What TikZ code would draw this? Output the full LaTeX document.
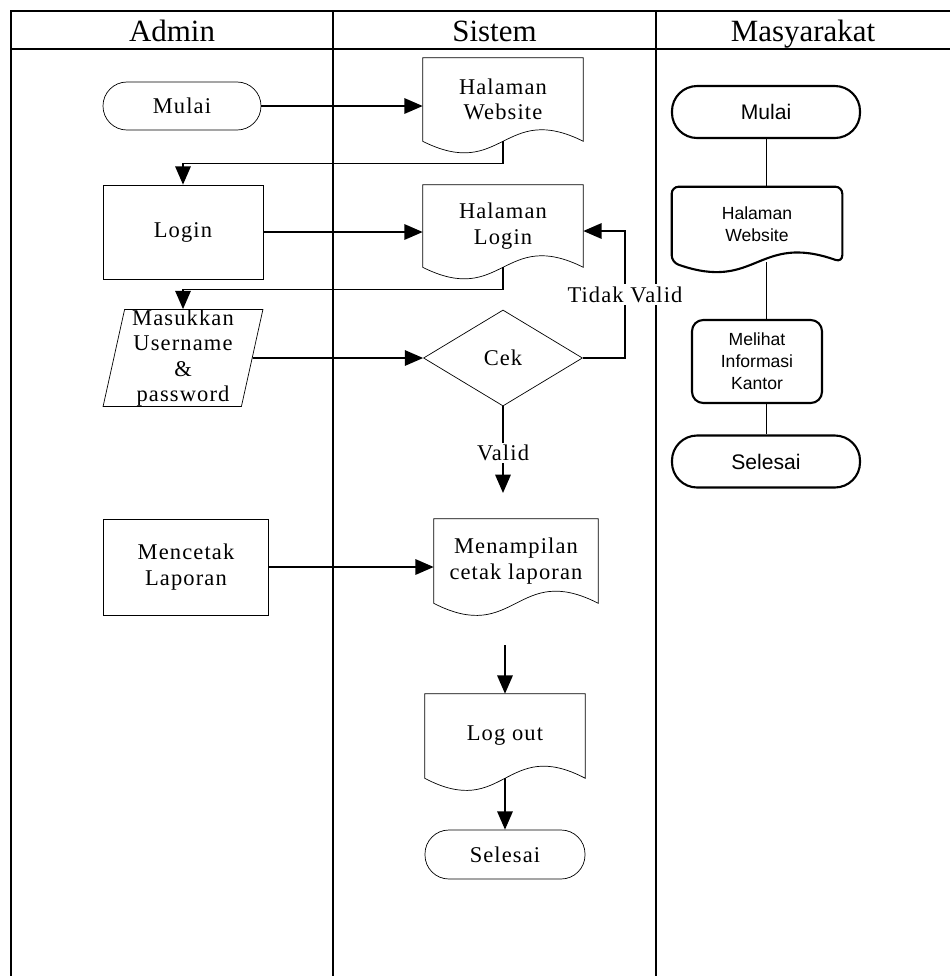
\documentclass[tikz,border=0pt]{standalone}
\usepackage{fontspec}
\setmainfont{Liberation Serif}
\newfontfamily\lanefont[LetterSpace=5]{Liberation Serif}
\newfontfamily\arialfont{Liberation Sans}
\usetikzlibrary{arrows.meta,shapes.geometric}

\newcommand{\docoutline}[4][]{%
  \draw[#1] (#2.south east) .. controls +(-#3,-#4) and +(#3,#4) .. (#2.south west)
    -- (#2.north west) -- (#2.north east) -- cycle;}

\begin{document}
\begin{tikzpicture}[x=0.025cm, y=-0.025cm,
    >={Triangle[length=13pt,width=11pt]},
    lane/.style={line width=1pt},
    flow/.style={line width=1.1pt},
    head/.style={font=\fontsize{22}{26}\selectfont, anchor=base},
    txt/.style={font=\lanefont\fontsize{16}{18}\selectfont, align=center, inner sep=0pt},
    term/.style={txt, draw, line width=0.5pt, rounded corners=0.6cm, minimum width=3.95cm, minimum height=1.2cm},
    proc/.style={txt, draw, line width=0.5pt, minimum width=4cm, minimum height=2.35cm},
    doc/.style={txt, minimum width=4cm, minimum height=2.075cm},
    lbl/.style={txt, fill=white, inner sep=1.5pt},
    sterm/.style={draw, line width=1.5pt, rounded corners=0.63cm, minimum width=4.7cm, minimum height=1.3cm, font=\arialfont\fontsize{15}{18}\selectfont},
    sbox/.style={align=center, inner sep=0pt, font=\arialfont\fontsize{12.5}{15.5}\selectfont},
    sline/.style={line width=0.7pt}]

  \useasboundingbox (0,0) rectangle (950,976);

  \draw[lane] (11,976) -- (11,11) -- (950,11);
  \draw[lane] (11,49) -- (950,49);
  \draw[lane] (333,11) -- (333,976);
  \draw[lane] (656,11) -- (656,976);
  \node[head] (hadmin) at (172,41.5) {Admin};
  \node[head] (hsistem) at (494.5,41.5) {Sistem};
  \node[head] (hmasy) at (803,41.5) {Masyarakat};

  \node[term] (amulai) at (182,106) {Mulai};
  \node[proc] (alogin) at (183,232) {Login};
  \node[txt, draw, line width=0.5pt, trapezium, trapezium left angle=79, trapezium right angle=101,
        trapezium stretches=true, minimum width=4cm, minimum height=2.425cm] (ainput) at (183,358) {Masukkan\\Username\\\&\\password};
  \node[proc, minimum width=4.125cm, minimum height=2.4cm] (acetak) at (186,567) {Mencetak\\Laporan};

  \node[doc] (sweb) at (503,99.5) {Halaman\\Website};
  \docoutline[line width=0.5pt]{sweb}{80}{40}
  \node[doc, minimum height=2.05cm] (slogin) at (503,226) {Halaman\\Login};
  \docoutline[line width=0.5pt]{slogin}{80}{40}
  \node[txt, draw, line width=0.5pt, diamond, aspect=1.65, minimum width=3.975cm, minimum height=2.4cm] (scek) at (503,358) {Cek};
  \node[doc, minimum width=4.1cm, minimum height=2.1cm] (stampil) at (516,561) {Menampilan\\cetak laporan};
  \docoutline[line width=0.5pt]{stampil}{82}{42}
  \node[doc, minimum height=2.1cm] (slogout) at (505,736) {Log out};
  \docoutline[line width=0.5pt]{slogout}{80}{42}
  \node[term, minimum width=4cm, minimum height=1.225cm] (sselesai) at (505,854.5) {Selesai};

  \coordinate (tvalid) at (625,231);
  \coordinate (vend) at (503,493);
  \coordinate (lstart) at (505,645);

  \draw[flow,->] (amulai.east) -- (amulai.east -| sweb.west);
  \draw[flow,->] (sweb.south) -- ++(0,22) -| (alogin.north);
  \draw[flow,->] (alogin.east) -- (alogin.east -| slogin.west);
  \draw[flow,->] (slogin.south) -- ++(0,22) -| (ainput.north);
  \draw[flow,->] (ainput.east) -- (scek.west);
  \draw[flow,->] (scek.east) -| node[lbl, pos=0.75] {Tidak Valid} (tvalid) -- (tvalid -| slogin.east);
  \draw[flow,->] (scek.south) -- node[lbl, pos=0.54] {Valid} (vend);
  \draw[flow,->] (acetak.east) -- (acetak.east -| stampil.west);
  \draw[flow,->] (lstart) -- (slogout.north);
  \draw[flow,->] (slogout.south) -- (sselesai.north);

  \node[sterm] (mmulai) at (766,112) {Mulai};
  \node[sbox, minimum width=4.25cm, minimum height=1.875cm] (mweb) at (757,224.5) {Halaman\\Website};
  \docoutline[line width=1.5pt, rounded corners=5pt]{mweb}{85}{30}
  \node[sbox, draw, line width=1.5pt, rounded corners=8pt, minimum width=3.25cm, minimum height=2.075cm] (mlihat) at (757,361.5) {Melihat\\Informasi\\Kantor};
  \node[sterm] (mselesai) at (766,461.5) {Selesai};
  \draw[sline] (mmulai.south) -- (mmulai.south |- mweb.north);
  \draw[sline] (mweb.south -| mmulai.south) -- (mlihat.north -| mmulai.south);
  \draw[sline] (mlihat.south -| mselesai.north) -- (mselesai.north);
\end{tikzpicture}
\end{document}
